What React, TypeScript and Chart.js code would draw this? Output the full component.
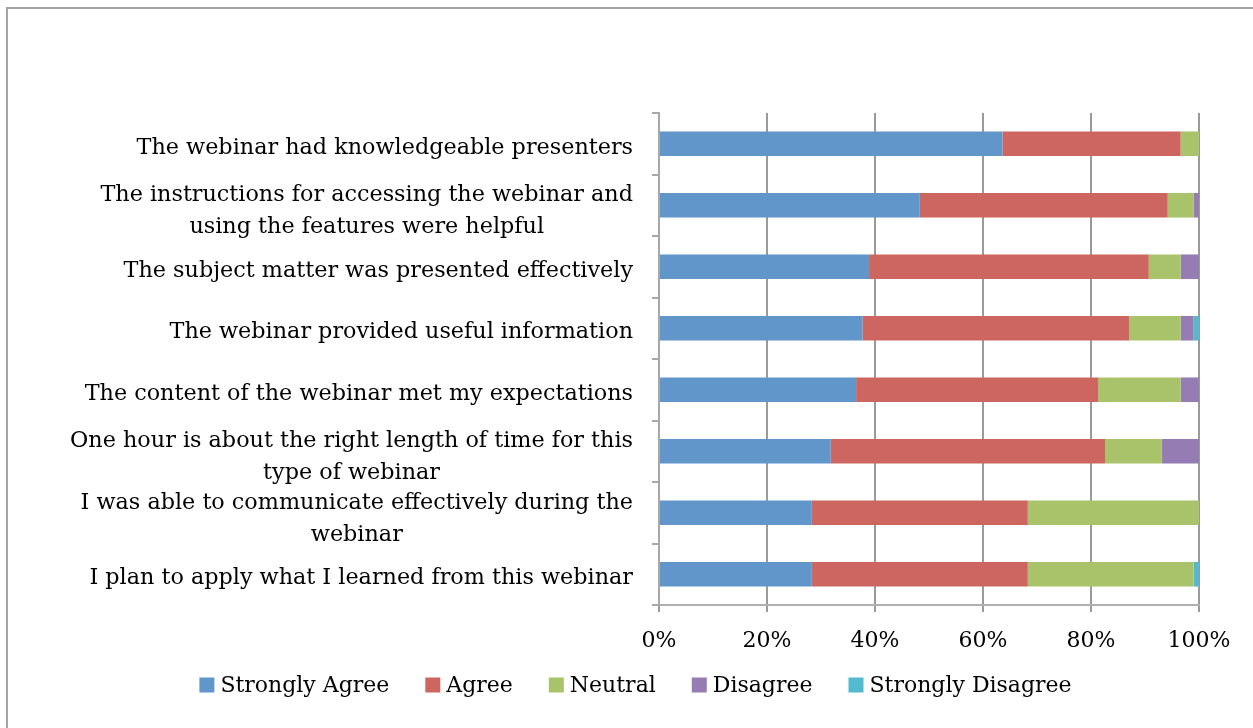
import { useEffect, useRef } from 'react';
import { Chart, registerables } from 'chart.js';

Chart.register(...registerables);

const categories: (string | string[])[] = [
  'The webinar had knowledgeable presenters',
  ['The instructions for accessing the webinar and', 'using the features were helpful'],
  'The subject matter was presented effectively',
  'The webinar provided useful information',
  'The content of the webinar met my expectations',
  ['One hour is about the right length of time for this', 'type of webinar'],
  ['I was able to communicate effectively during the', 'webinar'],
  'I plan to apply what I learned from this webinar',
];

const seriesNames = ['Strongly Agree', 'Agree', 'Neutral', 'Disagree', 'Strongly Disagree'];
const stronglyAgree = [63.6, 48.3, 38.9, 37.7, 36.5, 31.8, 28.3, 28.3];
const agree = [33.0, 45.9, 51.8, 49.4, 44.8, 50.8, 40.0, 40.0];
const neutral = [3.4, 4.8, 5.9, 9.5, 15.3, 10.5, 31.7, 30.7];
const disagree = [0, 1.0, 3.4, 2.4, 3.4, 6.9, 0, 0];
const stronglyDisagree = [0, 0, 0, 1.0, 0, 0, 0, 1.0];
const seriesColors = ['#6096C9', '#CD6660', '#A9C36A', '#957CB3', '#52B9CE'];
const xTickStep = 20;
const xMax = 100;

const FONT = '"DejaVu Serif", serif';
const SIZE = 22;
const LABEL_SIZE = 22.3;

const framePlugin = {
  id: 'frame',
  beforeDraw(chart: any) {
    const { ctx, width, height } = chart;
    ctx.save();
    ctx.strokeStyle = '#a3a3a3';
    ctx.lineWidth = 2;
    ctx.beginPath();
    ctx.moveTo(7, height);
    ctx.lineTo(7, 8);
    ctx.lineTo(width, 8);
    ctx.stroke();
    ctx.restore();
  },
};

const yLabelPlugin = {
  id: 'yLabels',
  afterDraw(chart: any) {
    const { ctx, chartArea } = chart;
    const y = chart.scales.y;
    ctx.save();
    ctx.font = `${LABEL_SIZE}px ${FONT}`;
    ctx.fillStyle = '#000';
    ctx.textBaseline = 'middle';
    ctx.textAlign = 'center';
    const right = chartArea.left - 26;
    categories.forEach((lab, i) => {
      const lines = Array.isArray(lab) ? lab : [lab];
      const cy = y.getPixelForValue(i);
      const widest = Math.max(...lines.map((l) => ctx.measureText(l).width));
      const cx = right - widest / 2;
      if (lines.length === 1) {
        ctx.fillText(lines[0], cx, cy + 4);
      } else {
        lines.forEach((l, k) => ctx.fillText(l, cx, cy - 10 + 32 * k));
      }
    });
    ctx.restore();
  },
};

const legendPlugin = {
  id: 'bottomLegend',
  afterDraw(chart: any) {
    const { ctx } = chart;
    const items = chart.data.datasets.map((d: any) => ({ text: d.label, color: d.backgroundColor }));
    ctx.save();
    ctx.font = `${SIZE}px ${FONT}`;
    ctx.textBaseline = 'middle';
    ctx.textAlign = 'left';
    const box = 15;
    const gapText = 6;
    const gapItem = 36;
    const widths = items.map((it: any) => ctx.measureText(it.text).width);
    const total = widths.reduce((a: number, w: number) => a + box + gapText + w, 0) + gapItem * (items.length - 1);
    const centerX = 635.5;
    const cy = 685;
    let x = centerX - total / 2;
    items.forEach((it: any, i: number) => {
      ctx.fillStyle = it.color;
      ctx.fillRect(x, cy - box / 2, box, box);
      ctx.fillStyle = '#000';
      ctx.fillText(it.text, x + box + gapText, cy + 1);
      x += box + gapText + widths[i] + gapItem;
    });
    ctx.restore();
  },
};

export default function App() {
  const ref = useRef<HTMLCanvasElement | null>(null);

  useEffect(() => {
    if (!ref.current) return;
    const values = [stronglyAgree, agree, neutral, disagree, stronglyDisagree];
    const chart = new Chart(ref.current, {
      type: 'bar',
      data: {
        labels: categories,
        datasets: seriesNames.map((name, i) => ({
          label: name,
          data: values[i],
          backgroundColor: seriesColors[i],
          borderWidth: 0,
          categoryPercentage: 1,
          barPercentage: 0.4,
        })),
      },
      options: {
        indexAxis: 'y',
        animation: false,
        responsive: true,
        maintainAspectRatio: false,
        layout: { padding: { top: 113, left: 0, right: 54, bottom: 57.6 } },
        scales: {
          x: {
            stacked: true,
            min: 0,
            max: xMax,
            ticks: {
              stepSize: xTickStep,
              callback: (v: any) => `${v}%`,
              font: { family: FONT, size: SIZE },
              color: '#000',
              padding: 16,
            },
            grid: { color: '#9a9a9a', lineWidth: 2, tickLength: 7, drawTicks: true },
            border: { display: true, color: '#b0b0b0', width: 2 },
          },
          y: {
            stacked: true,
            ticks: { display: false },
            grid: { drawOnChartArea: false, drawTicks: true, tickLength: 7, color: '#a8a8a8', lineWidth: 2 },
            border: { display: true, color: '#a8a8a8', width: 2 },
            afterFit: (scale: any) => {
              scale.width = 659;
            },
          },
        },
        plugins: {
          legend: { display: false },
          tooltip: { enabled: false },
        },
      },
      plugins: [framePlugin, yLabelPlugin, legendPlugin],
    });
    return () => chart.destroy();
  }, []);

  return (
    <div style={{ position: 'absolute', left: 0, top: 0, width: 1253, height: 728 }}>
      <canvas ref={ref} />
    </div>
  );
}
